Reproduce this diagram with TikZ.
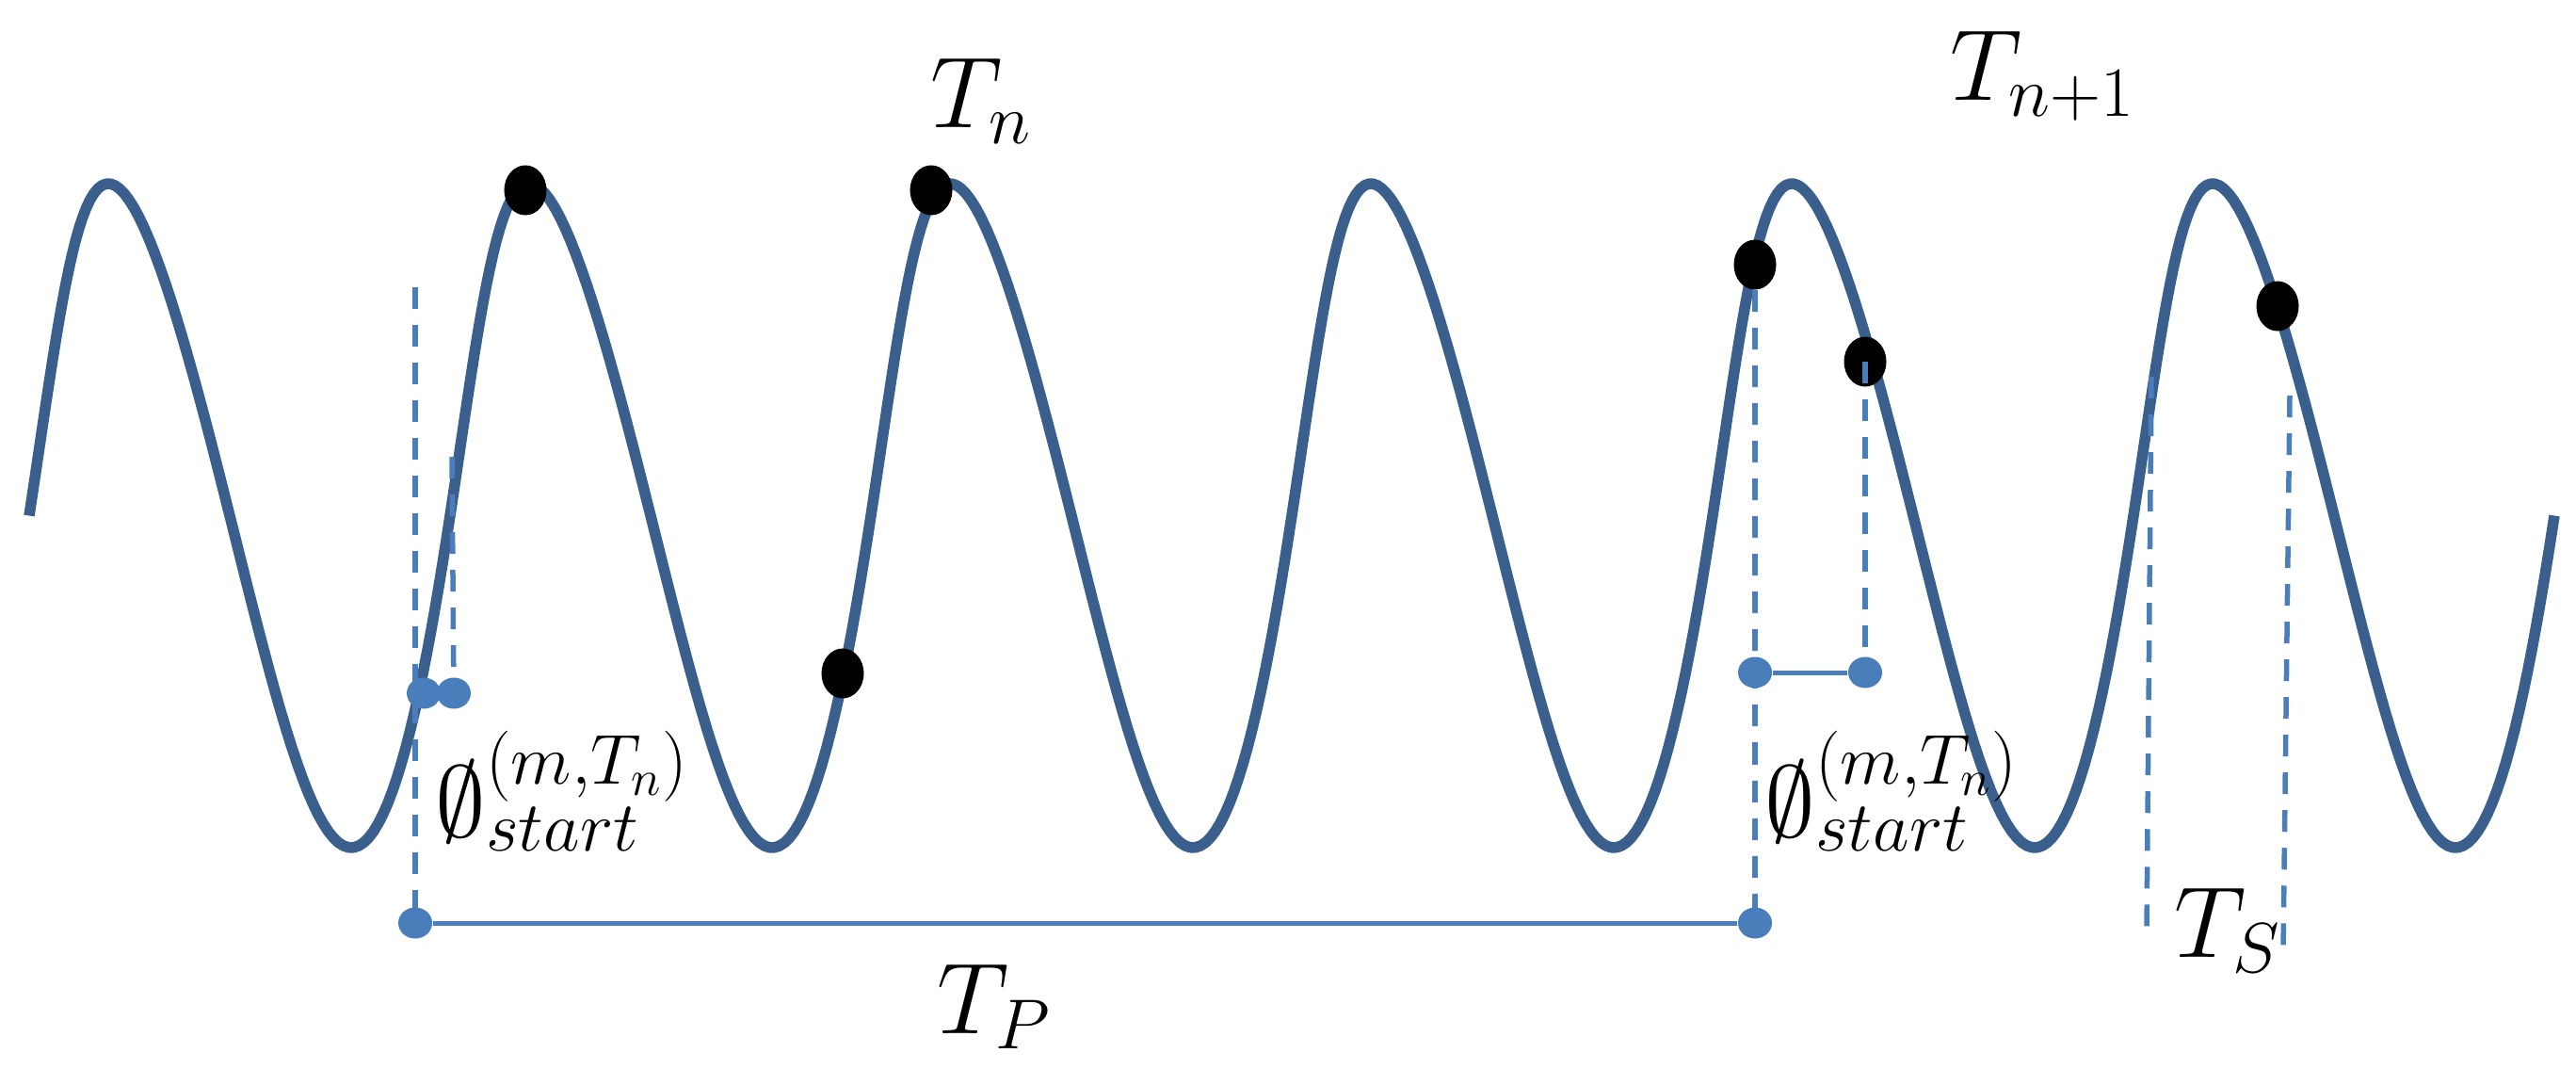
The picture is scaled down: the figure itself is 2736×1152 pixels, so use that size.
\documentclass[tikz,border=0pt]{standalone}
\usepackage{fix-cm}
\usetikzlibrary{shapes.geometric}
\definecolor{wavecol}{RGB}{58,95,140}
\definecolor{lblue}{RGB}{74,126,187}
\begin{document}
\begin{tikzpicture}[x=0.01cm,y=-0.01cm,
  wavestyle/.style={draw=wavecol, line width=0.115cm, line cap=butt, line join=round},
  bdot/.style={ellipse, fill=black, minimum width=0.45cm, minimum height=0.53cm, inner sep=0},
  udot/.style={ellipse, fill=lblue, minimum width=0.36cm, minimum height=0.33cm, inner sep=0},
  dashline/.style={draw=lblue, line width=0.055cm, dash pattern=on 0.23cm off 0.17cm},
  barline/.style={draw=lblue, line width=0.05cm},
  lab/.style={inner sep=0, font=\fontsize{30.5}{36}\selectfont}]
\useasboundingbox (0,0) rectangle (2736,1152);
% wave
\draw[wavestyle] plot[domain=-90:2070, samples=541, variable=\t]
  ({115+(\t/360)*447-5.25*sin(\t)+17.25*(1-cos(\t))+2.625*(1-cos(2*\t))}, {547.5-352.5*cos(\t)});
% black dots
\node[bdot] (k1) at (558,202) {};
\node[bdot] (k2) at (989,202) {};
\node[bdot] (k3) at (895,715) {};
\node[bdot] (k4) at (1864,281) {};
\node[bdot] (k5) at (1981,384) {};
\node[bdot] (k6) at (2419,325) {};
% coordinates
\coordinate (a1) at (441,305);
\coordinate (b1) at (480,485);
\coordinate (s1) at (2285,400);
\coordinate (s2) at (2280,990);
\coordinate (s3) at (2432,420);
\coordinate (s4) at (2425,1010);
\coordinate (u1c) at (450,736);
\coordinate (u2c) at (482,736);
\coordinate (u3c) at (441,980);
\coordinate (u4c) at (1864,980);
\coordinate (u5c) at (1864,714);
\coordinate (u6c) at (1981,714);
% dashed lines
\draw[dashline] (a1) -- (u3c);
\draw[dashline] (b1) -- (u2c);
\draw[dashline] (k4.south) -- (u4c);
\draw[dashline] (k5.center) -- (u6c);
\draw[dashline] (s1) -- (s2);
\draw[dashline] (s3) -- (s4);
% blue dots
\node[udot] (u1) at (u1c) {};
\node[udot] (u2) at (u2c) {};
\node[udot] (u3) at (u3c) {};
\node[udot] (u4) at (u4c) {};
\node[udot] (u5) at (u5c) {};
\node[udot] (u6) at (u6c) {};
% bars
\draw[barline] (u1) -- (u2);
\draw[barline] (u3) -- (u4);
\draw[barline] (u5) -- (u6);
% labels
\node[lab, anchor=north west] (tn) at (988,62) {$T_n$};
\node[lab, anchor=north west] (tn1) at (2071,33) {$T_{n+1}$};
\node[lab, anchor=north west] (tp) at (995,1023) {$T_P$};
\node[lab, anchor=north west] (ts) at (2309,942) {$T_S$};
\node[lab, anchor=north west] (phl) at (462,776) {$\emptyset^{(m,T_n)}_{start}$};
\node[lab, anchor=north west] (phr) at (1874,776) {$\emptyset^{(m,T_n)}_{start}$};
\end{tikzpicture}
\end{document}
